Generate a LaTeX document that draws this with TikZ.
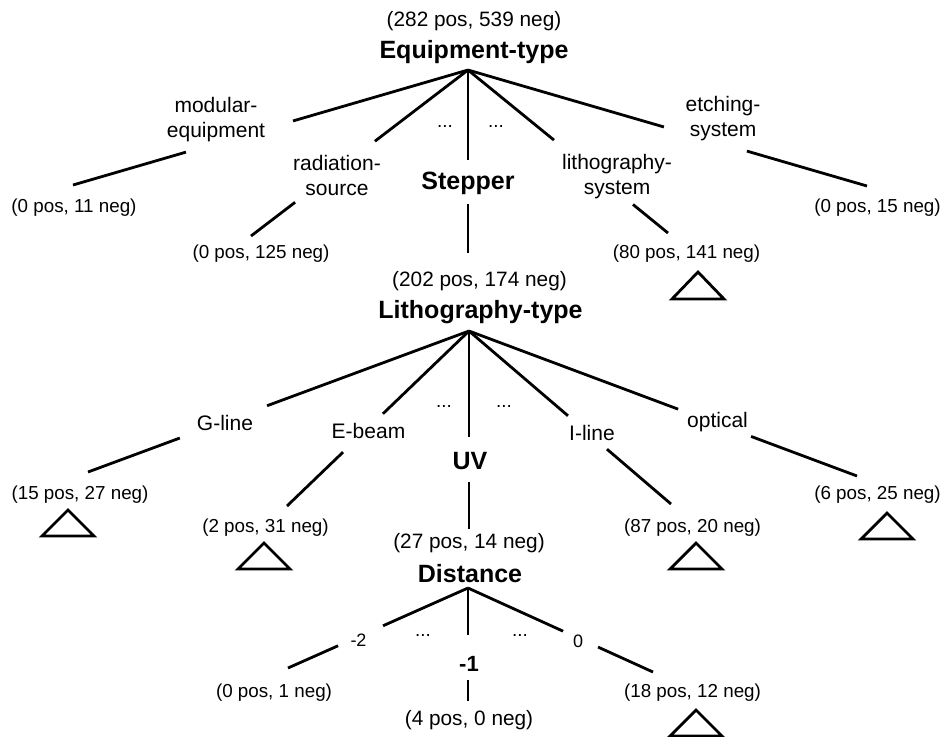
\documentclass[tikz,border=0pt]{standalone}
\usepackage{fontspec}
\setmainfont{Liberation Sans}
\usetikzlibrary{calc}

\begin{document}
\begin{tikzpicture}[x=0.5pt,y=-0.5pt,
	edge/.style={line width=1.4pt},
	thinedge/.style={line width=1pt},
	attr/.style={inner sep=0pt,font=\fontsize{12.5}{15}\selectfont\bfseries},
	val/.style={inner sep=0pt,align=center,font=\fontsize{10.5}{12.5}\selectfont},
	cnt/.style={inner sep=0pt,font=\fontsize{10.4}{12}\selectfont},
	leaf/.style={inner sep=0pt,font=\fontsize{9.4}{11}\selectfont},
	numval/.style={inner sep=0pt,font=\fontsize{9}{11}\selectfont}]
	\useasboundingbox (0,0) rectangle (943,736);
	% Equipment-type
	\node[cnt] (rootcnt) at (474,21) {(282 pos, 539 neg)};
	\node[attr] (equip) at (474,52) {Equipment-type};
	\coordinate (equipA) at (468,70);
	\node[val] (modeq) at (216,120) {modular-\\equipment};
	\node[val] (radsrc) at (337,175) {radiation-\\source};
	\node[attr] (stepper) at (468,183) {Stepper};
	\node[val] (lithsys) at (617,176.5) {lithography-\\system};
	\node[val] (etchsys) at (723,119) {etching-\\system};
	\node[leaf] (dots1) at (445,126) {...};
	\node[leaf] (dots2) at (496,126) {...};
	\coordinate (modeqT) at (73,185);
	\coordinate (radsrcT) at (251,236);
	\coordinate (stepperT) at (468,253);
	\coordinate (lithsysT) at (668,233);
	\coordinate (etchsysT) at (867,186);
	\draw[edge] (equipA) -- ($(equipA)!.443!(modeqT)$) ($(equipA)!.714!(modeqT)$) -- (modeqT);
	\draw[edge] (equipA) -- ($(equipA)!.429!(radsrcT)$) ($(equipA)!.797!(radsrcT)$) -- (radsrcT);
	\draw[edge] (equipA) -- ($(equipA)!.492!(stepperT)$);
	\draw[thinedge] ($(equipA)!.732!(stepperT)$) -- (stepperT);
	\draw[edge] (equipA) -- ($(equipA)!.43!(lithsysT)$) ($(equipA)!.825!(lithsysT)$) -- (lithsysT);
	\draw[edge] (equipA) -- ($(equipA)!.491!(etchsysT)$) ($(equipA)!.699!(etchsysT)$) -- (etchsysT);
	\node[leaf] (modeqcnt) at (74,208) {(0 pos, 11 neg)};
	\node[leaf] (radsrccnt) at (261,254) {(0 pos, 125 neg)};
	\node[leaf] (lithsyscnt) at (686.5,253.5) {(80 pos, 141 neg)};
	\node[leaf] (etchsyscnt) at (877.5,207.5) {(0 pos, 15 neg)};
	\coordinate (lithsysS) at (698,272);
	\draw[edge] (lithsysS) -- ++(-26,27) -- ++(52,0) -- cycle;

	% Lithography-type
	\node[cnt] (stepcnt) at (479.5,281) {(202 pos, 174 neg)};
	\node[attr] (litho) at (480.5,312) {Lithography-type};
	\coordinate (lithoA) at (469,331);
	\node[val] (gline) at (225,423) {G-line};
	\node[val] (ebeam) at (368.5,431) {E-beam};
	\node[attr] (uv) at (470,461.5) {UV};
	\node[val] (iline) at (592,432.5) {I-line};
	\node[val] (optical) at (717.5,422) {optical};
	\node[leaf] (dots3) at (444,406) {...};
	\node[leaf] (dots4) at (504,406) {...};
	\coordinate (glineT) at (88,472);
	\coordinate (ebeamT) at (287,506);
	\coordinate (uvT) at (469,529);
	\coordinate (ilineT) at (671,504);
	\coordinate (opticalT) at (857,476);
	\draw[edge] (lithoA) -- ($(lithoA)!.53!(glineT)$) ($(lithoA)!.759!(glineT)$) -- (glineT);
	\draw[edge] (lithoA) -- ($(lithoA)!.473!(ebeamT)$) ($(lithoA)!.692!(ebeamT)$) -- (ebeamT);
	\draw[edge] (lithoA) -- ($(lithoA)!.535!(uvT)$);
	\draw[thinedge] ($(lithoA)!.763!(uvT)$) -- (uvT);
	\draw[edge] (lithoA) -- ($(lithoA)!.49!(ilineT)$) ($(lithoA)!.683!(ilineT)$) -- (ilineT);
	\draw[edge] (lithoA) -- ($(lithoA)!.539!(opticalT)$) ($(lithoA)!.727!(opticalT)$) -- (opticalT);
	\node[leaf] (glinecnt) at (80,494.5) {(15 pos, 27 neg)};
	\node[leaf] (ebeamcnt) at (265.5,527.5) {(2 pos, 31 neg)};
	\node[leaf] (ilinecnt) at (692.5,527.5) {(87 pos, 20 neg)};
	\node[leaf] (opticalcnt) at (877.5,495) {(6 pos, 25 neg)};
	\coordinate (glineS) at (68,510);
	\coordinate (ebeamS) at (264,543);
	\coordinate (ilineS) at (696,543);
	\coordinate (opticalS) at (887,513);
	\draw[edge] (glineS) -- ++(-26,26) -- ++(52,0) -- cycle;
	\draw[edge] (ebeamS) -- ++(-26,26) -- ++(52,0) -- cycle;
	\draw[edge] (ilineS) -- ++(-26,26) -- ++(52,0) -- cycle;
	\draw[edge] (opticalS) -- ++(-26,26) -- ++(52,0) -- cycle;

	% Distance
	\node[cnt] (uvcnt) at (469,543.5) {(27 pos, 14 neg)};
	\node[attr] (distance) at (470,574) {Distance};
	\coordinate (distA) at (468,588);
	\node[numval] (mtwo) at (358.5,640) {-2};
	\node[attr,font=\fontsize{11}{13}\selectfont\bfseries] (mone) at (469,663.5) {-1};
	\node[numval] (zero) at (578,641) {0};
	\node[leaf] (dots5) at (423,635) {...};
	\node[leaf] (dots6) at (520,635) {...};
	\coordinate (mtwoT) at (288,668);
	\coordinate (moneT) at (468,701);
	\coordinate (zeroT) at (653,672);
	\draw[edge] (distA) -- ($(distA)!.472!(mtwoT)$) ($(distA)!.722!(mtwoT)$) -- (mtwoT);
	\draw[edge] (distA) -- ($(distA)!.416!(moneT)$);
	\draw[thinedge] ($(distA)!.814!(moneT)$) -- (moneT);
	\draw[edge] (distA) -- ($(distA)!.514!(zeroT)$) ($(distA)!.703!(zeroT)$) -- (zeroT);
	\node[leaf] (mtwocnt) at (274,692.5) {(0 pos, 1 neg)};
	\node[cnt] (monecnt) at (469,720) {(4 pos, 0 neg)};
	\node[leaf] (zerocnt) at (692.5,692.5) {(18 pos, 12 neg)};
	\coordinate (zeroS) at (696,710);
	\draw[edge] (zeroS) -- ++(-26,26) -- ++(52,0) -- cycle;
\end{tikzpicture}
\end{document}
